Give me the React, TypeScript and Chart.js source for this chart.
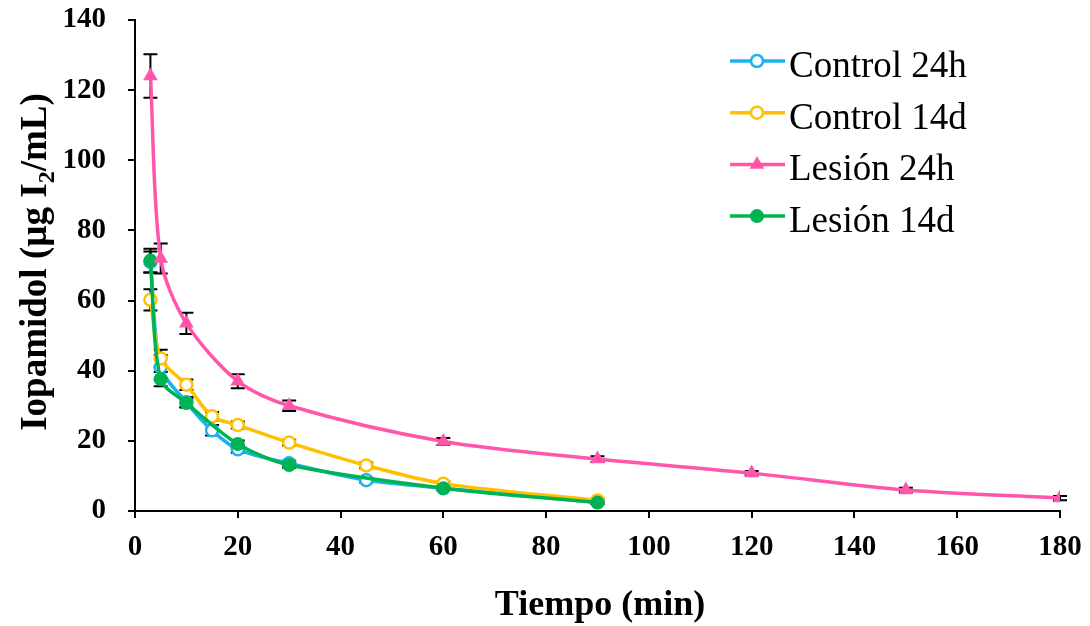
import React, { useEffect, useRef } from 'react';
import { Chart, registerables } from 'chart.js';

Chart.register(...registerables);

// Sampling times (min)
const timesControl = [3, 5, 10, 15, 20, 30, 45, 60, 90];
const timesLesion24h = [3, 5, 10, 20, 30, 60, 90, 120, 150, 180];
const timesLesion14d = [3, 5, 10, 20, 30, 60, 90];

// Iopamidol concentration (µg I2/mL) and standard errors
const control24h = [71, 41, 31, 23, 17.6, 13.6, 8.8, 6.5, 2.5];
const control24hErr = [3, 3.5, 1.5, 1.5, 1, 0.8, 0.7, 0.5, 0.4];
const control14d = [60.2, 43.5, 36, 27, 24.5, 19.5, 13, 7.8, 3];
const control14dErr = [3, 2.5, 1.5, 1.2, 1, 0.8, 0.8, 0.6, 0.5];
const lesion24h = [124, 72, 53.5, 37, 30, 19.8, 14.8, 10.8, 6, 3.7];
const lesion24hErr = [6.2, 4.3, 3, 2, 1.5, 1, 0.8, 0.6, 0.6, 0.6];
const lesion14d = [71.4, 37.6, 30.8, 19.1, 13.1, 6.5, 2.4];
const lesion14dErr = [3.4, 2, 1.2, 1, 0.8, 0.6, 0.4];

const seriesLabels = ['Control 24h', 'Control 14d', 'Lesión 24h', 'Lesión 14d'];
const seriesColors = ['#1BB3EF', '#FFC000', '#FF55AA', '#00B352'];

const xTitle = 'Tiempo (min)';
const yTitleParts = ['Iopamidol (µg I', '2', '/mL)'];

const SERIF = '"Liberation Serif", "Times New Roman", serif';

const toPoints = (xs: number[], ys: number[]) => xs.map((x, i) => ({ x, y: ys[i] }));

function drawMarker(ctx: CanvasRenderingContext2D, kind: string, x: number, y: number, color: string) {
  ctx.save();
  ctx.lineWidth = 2.5;
  ctx.strokeStyle = color;
  ctx.fillStyle = color;
  if (kind === 'open') {
    ctx.fillStyle = '#fff';
    ctx.beginPath();
    ctx.arc(x, y, 6, 0, Math.PI * 2);
    ctx.fill();
    ctx.stroke();
  } else if (kind === 'tri') {
    const r = 8.5;
    ctx.beginPath();
    for (let k = 0; k < 3; k++) {
      const a = (k * 2 * Math.PI) / 3;
      const px = x + Math.sin(a) * r;
      const py = y - Math.cos(a) * r;
      if (k === 0) ctx.moveTo(px, py);
      else ctx.lineTo(px, py);
    }
    ctx.closePath();
    ctx.fill();
  } else {
    ctx.beginPath();
    ctx.arc(x, y, 7, 0, Math.PI * 2);
    ctx.fill();
  }
  ctx.restore();
}

const errorBarsPlugin = {
  id: 'errorBars',
  beforeDatasetsDraw(chart: any) {
    const ctx = chart.ctx;
    const yScale = chart.scales.y;
    ctx.save();
    ctx.strokeStyle = '#000';
    ctx.lineWidth = 2;
    chart.data.datasets.forEach((ds: any, i: number) => {
      const meta = chart.getDatasetMeta(i);
      meta.data.forEach((pt: any, j: number) => {
        const v = ds.data[j].y;
        const e = ds.errors[j];
        const yTop = yScale.getPixelForValue(v + e);
        const yBot = yScale.getPixelForValue(v - e);
        const x = pt.x;
        const cap = 7;
        ctx.beginPath();
        ctx.moveTo(x, yTop);
        ctx.lineTo(x, yBot);
        ctx.moveTo(x - cap, yTop);
        ctx.lineTo(x + cap, yTop);
        ctx.moveTo(x - cap, yBot);
        ctx.lineTo(x + cap, yBot);
        ctx.stroke();
      });
    });
    ctx.restore();
  },
};

const decorPlugin = {
  id: 'decor',
  afterDraw(chart: any) {
    const ctx = chart.ctx;
    ctx.save();
    ctx.fillStyle = '#000';

    // x-axis title
    ctx.font = `bold 36px ${SERIF}`;
    ctx.textAlign = 'center';
    ctx.textBaseline = 'middle';
    ctx.fillText(xTitle, 600, 606);

    // y-axis title with subscript
    ctx.translate(33, 262);
    ctx.rotate(-Math.PI / 2);
    const mainFont = `bold 37px ${SERIF}`;
    const subFont = `bold 24px ${SERIF}`;
    ctx.font = mainFont;
    const w0 = ctx.measureText(yTitleParts[0]).width;
    const w2 = ctx.measureText(yTitleParts[2]).width;
    ctx.font = subFont;
    const w1 = ctx.measureText(yTitleParts[1]).width;
    let cx = -(w0 + w1 + w2) / 2;
    ctx.textAlign = 'left';
    ctx.textBaseline = 'alphabetic';
    ctx.font = mainFont;
    ctx.fillText(yTitleParts[0], cx, 13);
    cx += w0;
    ctx.font = subFont;
    ctx.fillText(yTitleParts[1], cx, 21);
    cx += w1;
    ctx.font = mainFont;
    ctx.fillText(yTitleParts[2], cx, 13);
    ctx.restore();

    // legend
    const kinds = ['open', 'open', 'tri', 'filled'];
    ctx.save();
    seriesLabels.forEach((label, i) => {
      const y = 61 + i * 51.7;
      ctx.strokeStyle = seriesColors[i];
      ctx.lineWidth = 3.5;
      ctx.beginPath();
      ctx.moveTo(730, y);
      ctx.lineTo(785, y);
      ctx.stroke();
      drawMarker(ctx, kinds[i], 757, y, seriesColors[i]);
      ctx.fillStyle = '#000';
      ctx.font = `37px ${SERIF}`;
      ctx.textAlign = 'left';
      ctx.textBaseline = 'alphabetic';
      ctx.fillText(label, 789, y + 16);
    });
    ctx.restore();
  },
};

export default function App() {
  const canvasRef = useRef<HTMLCanvasElement | null>(null);

  useEffect(() => {
    document.body.style.margin = '0';
    const canvas = canvasRef.current;
    if (!canvas) return;

    const lineDs = (label: string, data: any[], errors: number[], color: string, order: number, style: any) => ({
      label,
      data,
      errors,
      borderColor: color,
      borderWidth: 3.5,
      tension: 0.3,
      order,
      ...style,
    });

    const chart = new Chart(canvas, {
      type: 'line',
      data: {
        datasets: [
          lineDs(seriesLabels[0], toPoints(timesControl, control24h), control24hErr, seriesColors[0], 4, {
            pointStyle: 'circle', pointRadius: 6, pointBorderWidth: 2.5, pointBackgroundColor: '#fff', pointBorderColor: seriesColors[0],
          }),
          lineDs(seriesLabels[1], toPoints(timesControl, control14d), control14dErr, seriesColors[1], 3, {
            pointStyle: 'circle', pointRadius: 6, pointBorderWidth: 2.5, pointBackgroundColor: '#fff', pointBorderColor: seriesColors[1],
          }),
          lineDs(seriesLabels[2], toPoints(timesLesion24h, lesion24h), lesion24hErr, seriesColors[2], 1, {
            pointStyle: 'triangle', pointRadius: 8.5, pointBorderWidth: 0, pointBackgroundColor: seriesColors[2], pointBorderColor: seriesColors[2],
          }),
          lineDs(seriesLabels[3], toPoints(timesLesion14d, lesion14d), lesion14dErr, seriesColors[3], 2, {
            pointStyle: 'circle', pointRadius: 7, pointBorderWidth: 0, pointBackgroundColor: seriesColors[3], pointBorderColor: seriesColors[3],
          }),
        ] as any,
      },
      options: {
        animation: false,
        responsive: true,
        maintainAspectRatio: false,
        layout: { padding: { left: 0, top: 20, right: 30, bottom: 0 } },
        plugins: { legend: { display: false }, tooltip: { enabled: false } },
        scales: {
          x: {
            type: 'linear',
            min: 0,
            max: 180,
            ticks: { stepSize: 20, color: '#000', padding: 12, font: { family: SERIF, size: 29, weight: 'bold' } },
            grid: { drawOnChartArea: false, drawTicks: true, tickLength: 7, color: '#000', lineWidth: 2 },
            border: { display: true, color: '#000', width: 2 },
            afterFit: (s: any) => {
              s.height = 115;
              s.paddingLeft = 0;
              s.paddingRight = 0;
            },
          },
          y: {
            min: 0,
            max: 140,
            ticks: { stepSize: 20, color: '#000', padding: 22, font: { family: SERIF, size: 29, weight: 'bold' } },
            grid: { drawOnChartArea: false, drawTicks: true, tickLength: 7, color: '#000', lineWidth: 2 },
            border: { display: true, color: '#000', width: 2 },
            afterFit: (s: any) => {
              s.width = 135;
              s.paddingTop = 0;
              s.paddingBottom = 0;
            },
          },
        },
      } as any,
      plugins: [errorBarsPlugin, decorPlugin],
    });

    return () => chart.destroy();
  }, []);

  return (
    <div style={{ position: 'relative', width: 1090, height: 626, background: '#fff' }}>
      <canvas ref={canvasRef} />
    </div>
  );
}
